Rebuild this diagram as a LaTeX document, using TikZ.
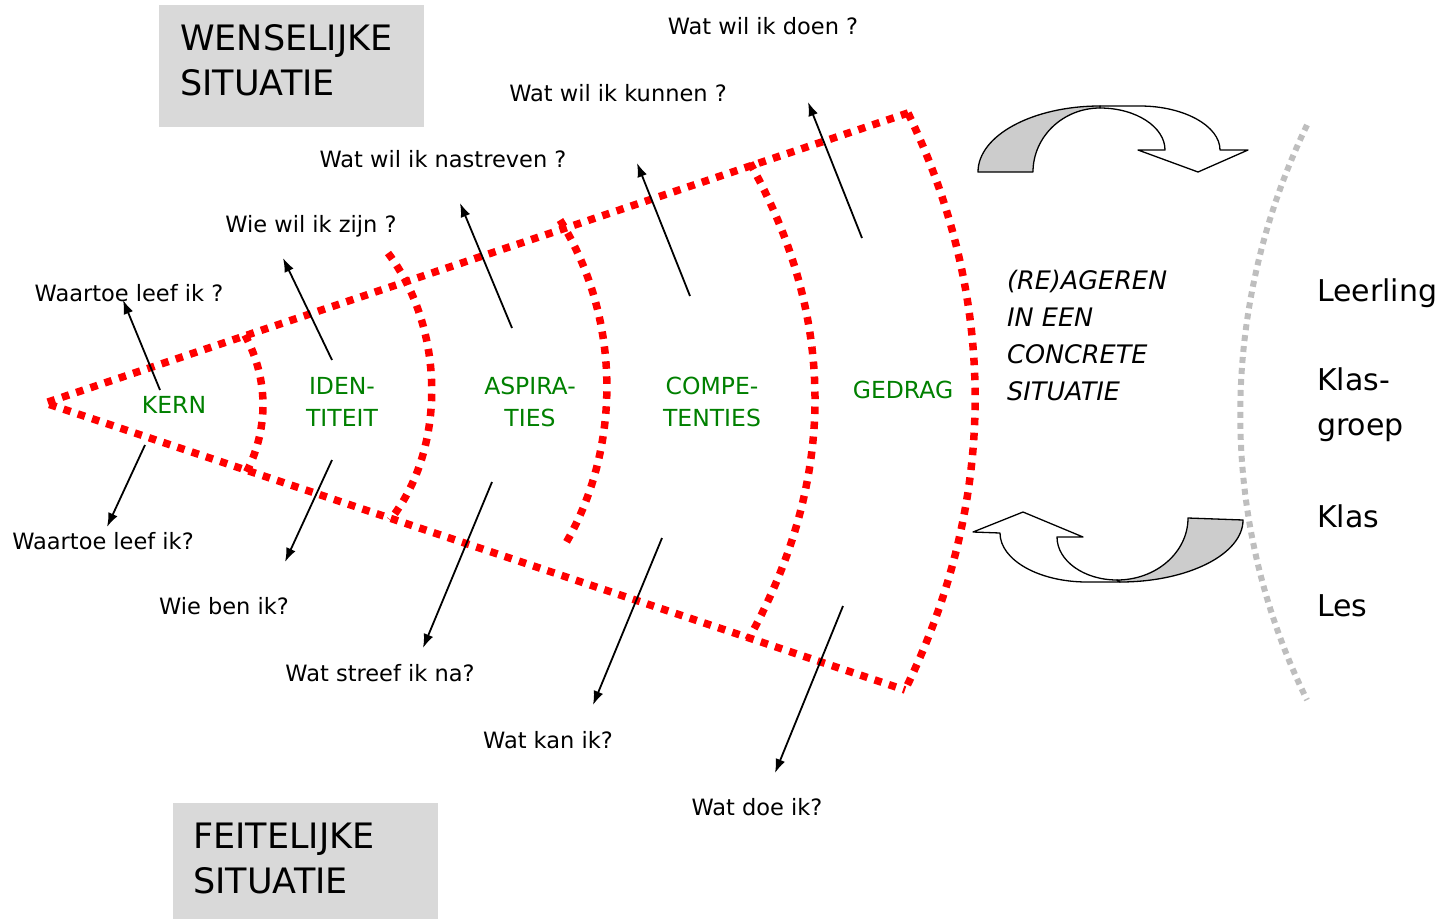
\documentclass[tikz,border=0pt]{standalone}
\usepackage{fontspec}
\setmainfont{DejaVu Sans}
\usetikzlibrary{arrows.meta}
\definecolor{boxgray}{RGB}{217,217,217}
\definecolor{arrgray}{RGB}{204,204,204}
\definecolor{dotgray}{RGB}{190,190,190}
\definecolor{lblgreen}{RGB}{0,128,0}
\tikzset{
  reddot/.style={draw=red, line width=7.5pt, dash pattern=on 7.5pt off 7.5pt},
  graydot/.style={draw=dotgray, line width=6pt, dash pattern=on 6pt off 5pt},
  qarrow/.style={-{Latex[length=14pt,width=10pt]}, line width=1.8pt},
  qtext/.style={font=\fontsize{22.5}{26}\selectfont, inner sep=0pt},
  green lbl/.style={font=\fontsize{23.5}{32}\selectfont, text=lblgreen, align=center, inner sep=0pt},
  side lbl/.style={font=\fontsize{30}{45}\selectfont, anchor=west, align=left, inner sep=0pt},
  sitbox/.style={fill=boxgray, minimum width=265pt, inner sep=0pt},
  sittext/.style={anchor=west, align=left, inner sep=0pt, font=\fontsize{35}{45}\selectfont},
  bigarrow/.style={draw=black, line width=1.3pt, line join=round}
}
\begin{document}
\begin{tikzpicture}[x=1pt,y=-1pt]
\useasboundingbox (0,0) rectangle (1440,919);

% boxes
\node[sitbox, minimum height=122pt] (wens) at (291.5,66) {};
\node[sittext] (wenst) at (180,60) {WENSELIJKE\\SITUATIE};
\node[sitbox, minimum height=116pt] (feit) at (305.5,861) {};
\node[sittext] (feitt) at (193,858) {FEITELIJKE\\SITUATIE};

% red wedge
\draw[reddot, line join=miter] (908,113) -- (45,403) -- (905,690);
\draw[reddot] (245,335) .. controls (269,380) and (269,430) .. (245,475);
\draw[reddot] (388,253) .. controls (446,330) and (446,450) .. (390,520);
\draw[reddot] (560,220) .. controls (622,320) and (622,450) .. (563,548);
\draw[reddot] (750,163) .. controls (837,320) and (837,480) .. (748,640);
\draw[reddot] (908,113) .. controls (998,300) and (998,500) .. (905,690);

% gray arc
\draw[graydot] (1307,125) .. controls (1218,310) and (1218,520) .. (1307,700);

% green labels
\node[green lbl] (kern) at (174,405) {KERN};
\node[green lbl] (iden) at (342,402) {IDEN-\\TITEIT};
\node[green lbl] (aspi) at (530,402) {ASPIRA-\\TIES};
\node[green lbl] (comp) at (712,402) {COMPE-\\TENTIES};
\node[green lbl] (gedr) at (903,390) {GEDRAG};

% situation text
\node[anchor=west, align=left, inner sep=0pt, font=\fontsize{25.5}{37}\selectfont\itshape] (reag) at (1007,335) {(RE)AGEREN\\IN EEN\\CONCRETE\\SITUATIE};

% right labels
\node[side lbl] (leer) at (1317,293) {Leerling};
\node[side lbl] (klgr) at (1317,405) {Klas-\\groep};
\node[side lbl] (klas) at (1317,516) {Klas};
\node[side lbl] (les) at (1317,606) {Les};

% question texts
\node[qtext] (q1) at (763,26) {Wat wil ik doen ?};
\node[qtext] (q2) at (618,93) {Wat wil ik kunnen ?};
\node[qtext] (q3) at (443,159) {Wat wil ik nastreven ?};
\node[qtext] (q4) at (311,226) {Wie wil ik zijn ?};
\node[qtext] (q5) at (129,293) {Waartoe leef ik ?};
\node[qtext] (d1) at (103,541) {Waartoe leef ik?};
\node[qtext] (d2) at (224,606) {Wie ben ik?};
\node[qtext] (d3) at (380,673) {Wat streef ik na?};
\node[qtext] (d4) at (548,740) {Wat kan ik?};
\node[qtext] (d5) at (757,807) {Wat doe ik?};

% arrow endpoints
\coordinate (u1s) at (160,390); \coordinate (u1e) at (123,300);
\coordinate (u2s) at (332,360); \coordinate (u2e) at (283,258);
\coordinate (u3s) at (512,328); \coordinate (u3e) at (460,203);
\coordinate (u4s) at (690,296); \coordinate (u4e) at (637,163);
\coordinate (u5s) at (862,238); \coordinate (u5e) at (808,102);
\coordinate (v1s) at (145,445); \coordinate (v1e) at (107,527);
\coordinate (v2s) at (332,460); \coordinate (v2e) at (285,562);
\coordinate (v3s) at (492,482); \coordinate (v3e) at (423,648);
\coordinate (v4s) at (662,538); \coordinate (v4e) at (593,705);
\coordinate (v5s) at (843,606); \coordinate (v5e) at (775,773);
\foreach \n in {u1,u2,u3,u4,u5,v1,v2,v3,v4,v5}{
  \draw[qarrow] (\n s) -- (\n e);
}

% top curved arrow
\draw[bigarrow, fill=white] (1100,106) -- (1140,106) .. controls (1184,106) and (1220,126) .. (1220,150)
  -- (1248,150) -- (1198,172) -- (1138,150) -- (1165,150)
  .. controls (1165,127) and (1136,108) .. (1100,108) -- cycle;
\draw[bigarrow, fill=arrgray] (978,172) .. controls (978,135.5) and (1032.6,106) .. (1100,106)
  -- (1100,108) .. controls (1063,108) and (1033,136.7) .. (1033,172) -- cycle;

% bottom curved arrow
\draw[bigarrow, fill=white] (1117,580) -- (1120,582) -- (1087,582) .. controls (1039,582) and (1000,560) .. (1000,533)
  -- (973,532) -- (1023,512) -- (1083,537) -- (1057,537)
  .. controls (1057,560.7) and (1083.9,580) .. (1117,580) -- cycle;
\draw[bigarrow, fill=arrgray] (1188,518) -- (1243,520) .. controls (1243,554.2) and (1187.9,582) .. (1120,582)
  -- (1117,580) .. controls (1156.2,580) and (1188,552.2) .. (1188,518) -- cycle;
\end{tikzpicture}
\end{document}
